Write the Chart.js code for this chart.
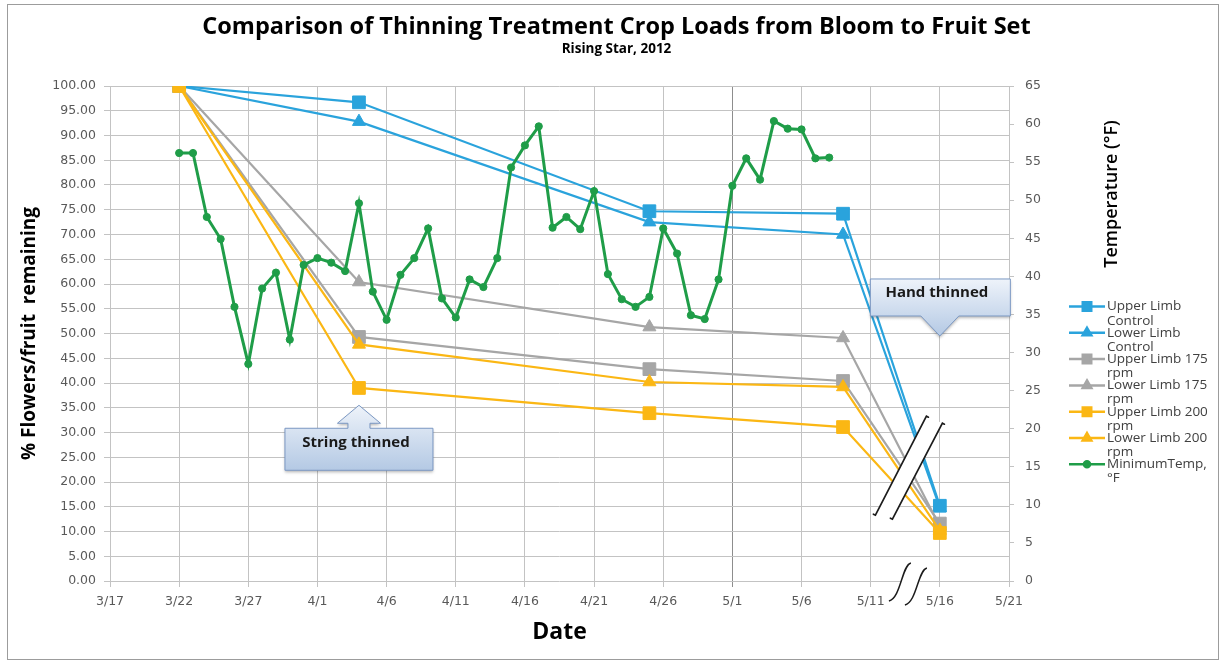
<!DOCTYPE html>
<html><head><meta charset="utf-8">
<script src="https://cdn.jsdelivr.net/npm/chart.js@4.4.1/dist/chart.umd.min.js"></script>
<style>html,body{margin:0;padding:0;background:#fff;}canvas{display:block;}</style>
</head><body>
<canvas id="c" width="1225" height="662"></canvas>
<script>
// ---------- data ----------
const chartTitle = 'Comparison of Thinning Treatment Crop Loads from Bloom to Fruit Set';
const chartSubtitle = 'Rising Star, 2012';
const xTitle = 'Date';
const yTitle = '% Flowers/fruit  remaining';
const y1Title = 'Temperature (°F)';
const xTickLabels = ['3/17','3/22','3/27','4/1','4/6','4/11','4/16','4/21','4/26','5/1','5/6','5/11','5/16','5/21'];
const sampleDates = ['3/22','4/4','4/25','5/9','5/16'];
const upperControl = [100, 96.7, 74.7, 74.2, 15.2];
const lowerControl = [100, 92.8, 72.5, 70.0, 14.8];
const upper175 = [100, 49.3, 42.8, 40.4, 11.6];
const lower175 = [100, 60.4, 51.3, 49.1, 11.0];
const upper200 = [100, 39.0, 33.9, 31.1, 9.7];
const lower200 = [100, 47.8, 40.2, 39.2, 10.2];
const tempStartDate = '3/22';
const minTemp = [56.2, 56.2, 47.8, 44.9, 36.0, 28.5, 38.4, 40.5, 31.7, 41.5,
                 42.4, 41.8, 40.7, 49.6, 38.0, 34.3, 40.2, 42.4, 46.3, 37.1,
                 34.6, 39.6, 38.6, 42.4, 54.3, 57.2, 59.7, 46.4, 47.8, 46.2,
                 51.2, 40.3, 37.0, 36.0, 37.3, 46.3, 43.0, 34.9, 34.4, 39.6,
                 51.9, 55.5, 52.7, 60.4, 59.4, 59.3, 55.5, 55.6];
const seriesLabels = ['Upper Limb Control','Lower Limb Control','Upper Limb 175 rpm','Lower Limb 175 rpm','Upper Limb 200 rpm','Lower Limb 200 rpm','MinimumTemp, °F'];
const darkGridDate = '5/1';
const stringNote = {text: 'String thinned', date: '4/4', value: 35.5};
const handNote = {text: 'Hand thinned', date: '5/16', value: 49.5};
const breakMain = {date: '5/14', dayShift: -0.2, value: 22.8};
const breakAxis = {date: '5/14', dayShift: -0.2, value: -0.5};

// ---------- helpers ----------
const BASE = Date.UTC(2012, 2, 17);
function dayOf(md){ const p = md.split('/').map(Number); return (Date.UTC(2012, p[0]-1, p[1]) - BASE) / 864e5; }
function pts(dates, vals){ return vals.map((v,i)=>({x: dayOf(dates[i]), y: v})); }
const tempPoints = minTemp.map((v,i)=>({x: dayOf(tempStartDate) + i, y: v}));

const BLUE = '#2aa3dc', GRAY = '#a6a6a6', GOLD = '#fbb714', GREEN = '#1f9d48';
const series = [
  {vals: upperControl, color: BLUE, style: 'rect'},
  {vals: lowerControl, color: BLUE, style: 'triangle'},
  {vals: upper175, color: GRAY, style: 'rect'},
  {vals: lower175, color: GRAY, style: 'triangle'},
  {vals: upper200, color: GOLD, style: 'rect'},
  {vals: lower200, color: GOLD, style: 'triangle'}
];
const radiusFor = {rect: 9, triangle: 7.5, circle: 3.6};
const datasets = series.map((s,i)=>({
  label: seriesLabels[i], data: pts(sampleDates, s.vals), yAxisID: 'y',
  borderColor: s.color, backgroundColor: s.color, borderWidth: 2.2,
  pointStyle: s.style, pointRadius: radiusFor[s.style], pointBorderWidth: 1,
  pointBackgroundColor: s.color, pointBorderColor: s.color, tension: 0, order: 7 - i
}));
datasets.push({
  label: seriesLabels[6], data: tempPoints, yAxisID: 'y1',
  borderColor: GREEN, backgroundColor: GREEN, borderWidth: 3,
  pointStyle: 'circle', pointRadius: radiusFor.circle, pointBorderWidth: 1,
  pointBackgroundColor: GREEN, pointBorderColor: GREEN, tension: 0, order: 0
});

const TEXT_FONT = '"Open Sans", Lato, sans-serif';
const TICK_FONT = {family: '"DejaVu Sans", Verdana, sans-serif', size: 12.5};
const GRID = '#c3c3c3';

function callout(ctx, tx, ty, up, text){
  ctx.save();
  ctx.beginPath();
  let top, bottom;
  if (up) {
    top = ty + 23; bottom = ty + 65;
    ctx.moveTo(tx, ty); ctx.lineTo(tx + 21.5, ty + 18); ctx.lineTo(tx + 11, ty + 18); ctx.lineTo(tx + 11, top);
    ctx.lineTo(tx + 74, top); ctx.lineTo(tx + 74, bottom); ctx.lineTo(tx - 74, bottom); ctx.lineTo(tx - 74, top);
    ctx.lineTo(tx - 11, top); ctx.lineTo(tx - 11, ty + 18); ctx.lineTo(tx - 21.5, ty + 18); ctx.closePath();
  } else {
    top = ty - 57; bottom = ty - 20;
    ctx.moveTo(tx - 69.5, top); ctx.lineTo(tx + 70.5, top); ctx.lineTo(tx + 70.5, bottom);
    ctx.lineTo(tx + 19, bottom); ctx.lineTo(tx, ty); ctx.lineTo(tx - 19, bottom);
    ctx.lineTo(tx - 69.5, bottom); ctx.closePath();
  }
  const g = ctx.createLinearGradient(0, up ? ty : top, 0, up ? bottom : ty);
  g.addColorStop(0, '#eef3fa'); g.addColorStop(1, '#b4c9e4');
  ctx.shadowColor = 'rgba(0,0,0,0.28)'; ctx.shadowBlur = 3; ctx.shadowOffsetY = 2;
  ctx.fillStyle = g; ctx.fill();
  ctx.shadowColor = 'transparent';
  ctx.strokeStyle = '#7c99c4'; ctx.lineWidth = 1; ctx.stroke();
  ctx.fillStyle = '#1a1a1a'; ctx.font = 'bold 15px ' + TEXT_FONT;
  ctx.textAlign = 'center'; ctx.textBaseline = 'middle';
  ctx.fillText(text, tx - 3, up ? ty + 37 : ty - 43);
  ctx.restore();
}

function breakMark(ctx, cx, cy){
  const L = [[-34, 47], [17, -52]], R = [[-17, 51], [33, -45]];
  ctx.save();
  ctx.beginPath();
  ctx.moveTo(cx + L[0][0], cy + L[0][1]); ctx.lineTo(cx + L[1][0], cy + L[1][1]);
  ctx.lineTo(cx + R[1][0], cy + R[1][1]); ctx.lineTo(cx + R[0][0], cy + R[0][1]); ctx.closePath();
  ctx.fillStyle = '#fff'; ctx.fill();
  ctx.strokeStyle = '#1c1c1c'; ctx.lineWidth = 1.7; ctx.lineCap = 'round';
  [L, R].forEach(l => {
    ctx.beginPath();
    ctx.moveTo(cx + l[0][0] - 2, cy + l[0][1] - 1);
    ctx.lineTo(cx + l[0][0], cy + l[0][1]);
    ctx.lineTo(cx + l[1][0], cy + l[1][1]);
    ctx.lineTo(cx + l[1][0] + 2, cy + l[1][1] + 1);
    ctx.stroke();
  });
  ctx.restore();
}

function smallBreak(ctx, cx, cy){
  const L = [[-17.5, 16.5], [1.5, -20.5]], R = [[-1.5, 20.5], [17.5, -15.5]];
  ctx.save();
  ctx.beginPath();
  ctx.moveTo(cx + L[0][0], cy + L[0][1]); ctx.lineTo(cx + L[1][0], cy + L[1][1]);
  ctx.lineTo(cx + R[1][0], cy + R[1][1]); ctx.lineTo(cx + R[0][0], cy + R[0][1]); ctx.closePath();
  ctx.fillStyle = '#fff'; ctx.fill();
  ctx.strokeStyle = '#1c1c1c'; ctx.lineWidth = 1.5;
  [L, R].forEach(l => {
    const bx = cx + l[0][0], by = cy + l[0][1], tx = cx + l[1][0], ty = cy + l[1][1];
    ctx.beginPath();
    ctx.moveTo(bx - 3, by + 1);
    ctx.bezierCurveTo(bx + 9, by - 2, tx - 9, ty + 2, tx, ty);
    ctx.stroke();
  });
  ctx.restore();
}

function wrapText(ctx, text, maxW){
  const words = text.split(' '); const lines = []; let cur = '';
  words.forEach(w => {
    const cand = cur ? cur + ' ' + w : w;
    if (cur && ctx.measureText(cand).width > maxW) { lines.push(cur); cur = w; } else cur = cand;
  });
  if (cur) lines.push(cur);
  return lines;
}

const decor = {
  id: 'decor',
  beforeDraw(chart){
    const ctx = chart.ctx;
    ctx.save();
    ctx.fillStyle = '#fff'; ctx.fillRect(0, 0, chart.width, chart.height);
    ctx.strokeStyle = '#9c9c9c'; ctx.lineWidth = 1;
    ctx.strokeRect(7.5, 4.5, 1211, 655);
    ctx.restore();
  },
  afterDatasetsDraw(chart){
    const ctx = chart.ctx, xs = chart.scales.x, ys = chart.scales.y;
    breakMark(ctx, xs.getPixelForValue(dayOf(breakMain.date) + breakMain.dayShift), ys.getPixelForValue(breakMain.value));
    smallBreak(ctx, xs.getPixelForValue(dayOf(breakAxis.date) + breakAxis.dayShift), ys.getPixelForValue(breakAxis.value));
    callout(ctx, xs.getPixelForValue(dayOf(stringNote.date)), ys.getPixelForValue(stringNote.value), true, stringNote.text);
    callout(ctx, xs.getPixelForValue(dayOf(handNote.date)), ys.getPixelForValue(handNote.value), false, handNote.text);
  },
  afterDraw(chart){
    const ctx = chart.ctx, area = chart.chartArea;
    // right axis title
    ctx.save();
    ctx.translate(area.right + 102.5, 194);
    ctx.rotate(-Math.PI / 2);
    ctx.font = '600 18px ' + TEXT_FONT; ctx.fillStyle = '#000';
    ctx.textAlign = 'center'; ctx.textBaseline = 'middle';
    ctx.fillText(y1Title, 0, 0);
    ctx.restore();
    // legend
    ctx.save();
    ctx.font = '13.5px ' + TEXT_FONT;
    const lx = area.right + 60, top = 306.5, step = 26.3;
    chart.data.datasets.forEach((ds, i) => {
      const y = top + i * step;
      ctx.strokeStyle = ds.borderColor; ctx.fillStyle = ds.borderColor; ctx.lineWidth = 2.5;
      ctx.beginPath(); ctx.moveTo(lx, y); ctx.lineTo(lx + 36, y); ctx.stroke();
      const r = ds.pointStyle === 'rect' ? 6 : ds.pointStyle === 'triangle' ? 5 : 3;
      Chart.helpers.drawPoint(ctx, {pointStyle: ds.pointStyle, radius: r, borderWidth: 1, rotation: 0}, lx + 18, y);
      ctx.fillStyle = '#404040'; ctx.textAlign = 'left'; ctx.textBaseline = 'middle';
      wrapText(ctx, ds.label, 112).forEach((ln, k) => ctx.fillText(ln, lx + 38, y + k * 14.2));
    });
    ctx.restore();
  }
};

new Chart(document.getElementById('c'), {
  type: 'line',
  data: {datasets},
  plugins: [decor],
  options: {
    responsive: false, animation: false, devicePixelRatio: 1, events: [],
    layout: {padding: {left: 8, right: 0, top: 0, bottom: 0}},
    plugins: {
      legend: {display: false}, tooltip: {enabled: false},
      title: {display: true, text: chartTitle, color: '#000',
        font: {family: TEXT_FONT, weight: 'bold', size: 23.5, lineHeight: 1}, padding: {top: 16, bottom: 0}},
      subtitle: {display: true, text: chartSubtitle, color: '#000',
        font: {family: TEXT_FONT, weight: 'bold', size: 13.5, lineHeight: 1}, padding: {top: 2.5, bottom: 30.5}}
    },
    scales: {
      x: {
        type: 'linear', position: 'bottom',
        min: dayOf(xTickLabels[0]), max: dayOf(xTickLabels[xTickLabels.length - 1]),
        ticks: {stepSize: 5, autoSkip: false, maxRotation: 0, font: TICK_FONT, color: '#595959', padding: 7,
          callback: (v, i) => xTickLabels[i]},
        grid: {color: c => (c.tick && c.tick.value === dayOf(darkGridDate)) ? '#8d8d8d' : GRID, lineWidth: 1, tickLength: 6},
        border: {display: false},
        title: {display: true, text: xTitle, color: '#000',
          font: {family: TEXT_FONT, weight: 'bold', size: 23, lineHeight: 1.2}, padding: {top: 0, bottom: 16.2}},
        afterFit: s => { s.height = 81; }
      },
      y: {
        position: 'left', min: 0, max: 100,
        ticks: {stepSize: 5, font: TICK_FONT, color: '#595959', padding: 8, callback: v => v.toFixed(2)},
        grid: {color: GRID, lineWidth: 1, tickLength: 6},
        border: {display: false},
        title: {display: true, text: yTitle, color: '#000',
          font: {family: TEXT_FONT, weight: 'bold', size: 19, lineHeight: 1.2}, padding: {top: 10.6, bottom: 0}},
        afterFit: s => { s.width = 102; }
      },
      y1: {
        position: 'right', min: 0, max: 65,
        ticks: {stepSize: 5, font: TICK_FONT, color: '#595959', padding: 11},
        grid: {drawOnChartArea: false, color: GRID, tickLength: 5},
        border: {display: true, color: GRID},
        afterFit: s => { s.width = 216; }
      }
    }
  }
});
</script>
</body></html>
